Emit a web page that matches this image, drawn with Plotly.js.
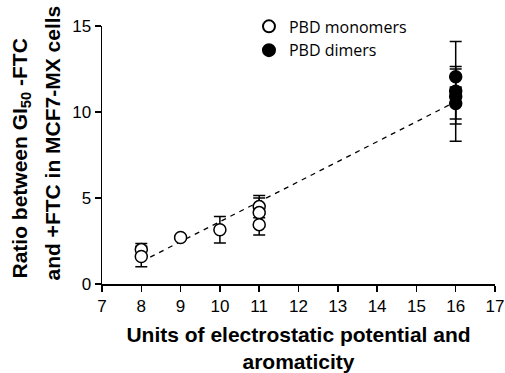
<!DOCTYPE html>
<html><head><meta charset="utf-8">
<script src="https://cdn.plot.ly/plotly-3.0.1.min.js"></script>
<style>body{margin:0;background:#fff}#c{width:505px;height:373px}</style>
</head><body><div id="c"></div>
<script>
const monoX = [8, 8, 9, 10, 11, 11, 11];
const monoY = [2.0, 1.6, 2.7, 3.15, 4.5, 4.15, 3.45];
const monoErr = [0.35, 0.6, 0.1, 0.77, 0.65, 0.85, 0.6];
const dimX = [16, 16, 16, 16];
const dimY = [12.05, 11.2, 10.9, 10.5];
const dimErr = [0.6, 2.9, 1.6, 0.9];
const fitX = [8, 16];
const fitY = [1.3, 10.6];
const xTicks = [7, 8, 9, 10, 11, 12, 13, 14, 15, 16, 17];
const yTicks = [0, 5, 10, 15];
const yTitleLines = ['Ratio between GI<sub>50</sub> -FTC', 'and +FTC in MCF7-MX cells'];

const err = a => ({type:'data', array:a, visible:true, color:'#000', thickness:1.5, width:6});
const data = [
  {x: fitX, y: fitY, mode:'lines', line:{color:'#000', width:1.3, dash:'5px,5px'}, showlegend:false, hoverinfo:'skip'},
  {x: monoX, y: monoY, name:'PBD monomers', mode:'markers', error_y: err(monoErr),
   marker:{symbol:'circle', size:12, color:'#fff', line:{color:'#000', width:1.5}}},
  {x: dimX, y: dimY, name:'PBD dimers', mode:'markers', error_y: err(dimErr),
   marker:{symbol:'circle', size:12, color:'#000', line:{color:'#000', width:1.5}}}
];
const axisFont = {family:'Liberation Sans, Arial, sans-serif', size:17, color:'#000'};
const titleFont = {family:'Liberation Sans, Arial, sans-serif', size:21, color:'#000'};
const L = 102, W = 393, T = 25, H = 259;
const layout = {
  width:505, height:373,
  margin:{l:L, r:10, t:T, b:89},
  paper_bgcolor:'#fff', plot_bgcolor:'#fff',
  showlegend:true,
  legend:{x:0.374, y:1.06, xanchor:'left', yanchor:'top', bgcolor:'rgba(0,0,0,0)',
    font:{family:'Open Sans, Noto Sans, sans-serif', size:16, color:'#000'}, itemsizing:'constant', tracegroupgap:0},
  xaxis:{range:[7,17], tickvals:xTicks, ticktext:xTicks.map(String), showgrid:false, zeroline:false,
    showline:true, linecolor:'#000', linewidth:1.5, ticks:'outside', ticklen:6, tickwidth:1.5, tickcolor:'#000',
    tickfont:axisFont,
    title:{text:'<b>Units of electrostatic potential and<br>aromaticity</b>', font:titleFont, standoff:13}},
  yaxis:{range:[0,15], tickvals:yTicks, ticktext:yTicks.map(String), showgrid:false, zeroline:false,
    showline:true, linecolor:'#000', linewidth:1.5, ticks:'outside', ticklen:6, tickwidth:1.5, tickcolor:'#000',
    tickfont:axisFont},
  annotations:[
    {text:'<b>'+yTitleLines[0]+'</b>', textangle:-90, xref:'paper', yref:'paper',
     x:(21-L)/W, y:(T+H-158)/H, xanchor:'center', yanchor:'middle', showarrow:false, font:titleFont},
    {text:'<b>'+yTitleLines[1]+'</b>', textangle:-90, xref:'paper', yref:'paper',
     x:(53-L)/W, y:(T+H-143)/H, xanchor:'center', yanchor:'middle', showarrow:false, font:titleFont}
  ]
};
Plotly.newPlot('c', data, layout, {staticPlot:true, displayModeBar:false});
</script></body></html>
